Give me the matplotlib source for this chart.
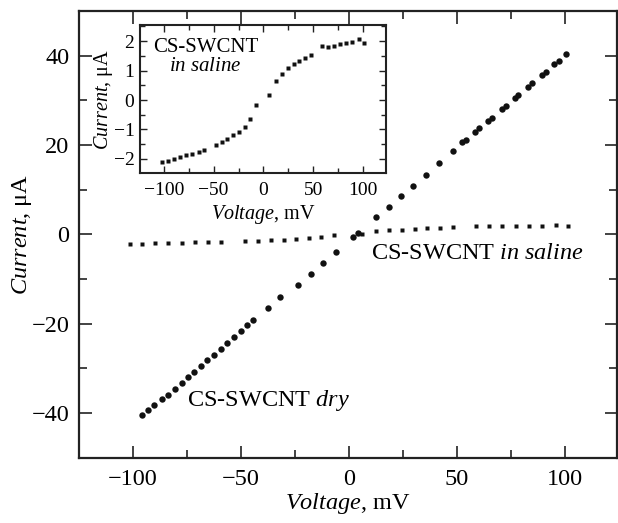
import matplotlib
matplotlib.use("Agg")
import matplotlib.pyplot as plt
from matplotlib.ticker import MultipleLocator

plt.rcParams['font.family'] = ['Liberation Serif', 'DejaVu Serif']
plt.rcParams['mathtext.fontset'] = 'custom'
plt.rcParams['mathtext.rm'] = 'Liberation Serif'
plt.rcParams['mathtext.it'] = 'Liberation Serif:italic'

# ---- data ----
dry_v = [-95.7, -92.9, -90.3, -86.4, -83.6, -80.6, -77.5, -74.4, -71.8, -68.7,
         -65.6, -62.5, -59.4, -56.3, -53.2, -50.1, -47.1, -44.3, -37.7, -32.1,
         -23.5, -17.6, -11.8, -5.9, 1.9, 4.3, 12.6, 18.5, 24.2, 29.8,
         35.5, 41.7, 48.1, 52.5, 54.0, 58.3, 60.2, 64.5, 66.4, 71.0,
         72.8, 76.9, 78.4, 83.0, 84.9, 89.2, 91.1, 94.9, 97.2, 100.3]
dry_i = [-40.5, -39.4, -38.3, -36.9, -36.0, -34.6, -33.2, -32.0, -30.8, -29.5,
         -28.2, -26.9, -25.6, -24.3, -22.9, -21.6, -20.4, -19.1, -16.5, -14.0,
         -11.3, -8.8, -6.4, -3.9, -0.6, 0.35, 3.8, 6.2, 8.6, 10.9,
         13.3, 15.9, 18.6, 20.6, 21.1, 23.0, 23.7, 25.4, 26.0, 28.0,
         28.7, 30.6, 31.2, 33.0, 33.8, 35.7, 36.4, 38.2, 38.9, 40.4]

saline_v = [-101.5, -95.7, -89.8, -83.6, -77.4, -71.3, -65.1, -59.3,
            -48.1, -42.0, -36.1, -30.2, -24.4, -18.5, -13.0, -7.1,
            6.0,
            12.3, 18.5, 24.4, 30.4, 36.2, 42.0, 48.2,
            58.8, 64.9, 71.0, 77.3, 83.3, 89.5, 95.7, 101.4]
saline_i = [-2.11, -2.07, -2.00, -1.93, -1.88, -1.82, -1.77, -1.71,
            -1.53, -1.41, -1.31, -1.20, -1.10, -0.90, -0.63, -0.17,
            0.16,
            0.64, 0.90, 1.08, 1.21, 1.31, 1.42, 1.54,
            1.82, 1.79, 1.84, 1.89, 1.93, 1.98, 2.07, 1.95]

main_xticks = [-100, -50, 0, 50, 100]
main_yticks = [-40, -20, 0, 20, 40]
inset_xticks = [-100, -50, 0, 50, 100]
inset_yticks = [-2, -1, 0, 1, 2]

W, H = 618, 523
fig = plt.figure(figsize=(W / 100, H / 100), dpi=100)

# ---- main axes ----
ax = fig.add_axes([79 / W, (H - 457.7) / H, (617 - 79) / W, (457.7 - 11) / H])
ax.plot(dry_v, dry_i, 'o', color='#111111', ms=4.6, mec='none')
ax.plot(saline_v, saline_i, 's', color='#111111', ms=3.3, mec='none')
ax.set_xlim(-125, 124.1)
ax.set_ylim(-50, 50)
ax.set_xticks(main_xticks)
ax.set_yticks(main_yticks)
ax.xaxis.set_minor_locator(MultipleLocator(25))
ax.yaxis.set_minor_locator(MultipleLocator(10))
ax.tick_params(which='both', direction='in', top=True, right=True,
               labelsize=17.5, width=1.2, color='#222222')
ax.tick_params(which='major', length=9, pad=7)
ax.tick_params(axis='x', which='major', pad=8)
ax.tick_params(which='minor', length=5.5)
for s in ax.spines.values():
    s.set_linewidth(1.6)
    s.set_color('#222222')
ax.set_xlabel(r'$\mathit{Voltage}$, mV', fontsize=17.5, labelpad=1)
ax.set_ylabel(r'$\mathit{Current}$, μA', fontsize=17.5, labelpad=-2)

ax.text(10, -4.3, r'CS-SWCNT $\mathit{in\ saline}$', fontsize=17.5,
        ha='left', va='center')
ax.text(-75, -37.3, r'CS-SWCNT $\mathit{dry}$', fontsize=17.5,
        ha='left', va='center')

# ---- inset ----
ins = fig.add_axes([140 / W, (H - 173.3) / H, 246 / W, 148.3 / H])
ins.plot(saline_v, saline_i, 's', color='#111111', ms=2.6, mec='none')
ins.set_xlim(-124, 123.2)
ins.set_ylim(-2.49, 2.55)
ins.set_xticks(inset_xticks)
ins.set_yticks(inset_yticks)
ins.xaxis.set_minor_locator(MultipleLocator(25))
ins.yaxis.set_minor_locator(MultipleLocator(0.5))
ins.tick_params(which='both', direction='in', top=True, right=True,
                labelsize=14, width=1.0, color='#222222')
ins.tick_params(which='major', length=5, pad=4)
ins.tick_params(axis='x', which='major', pad=6)
ins.tick_params(which='minor', length=3.5)
for s in ins.spines.values():
    s.set_linewidth(1.5)
    s.set_color('#222222')
ins.set_xlabel(r'$\mathit{Voltage}$, mV', fontsize=14.5, labelpad=3)
ins.set_ylabel(r'$\mathit{Current}$, μA', fontsize=14.5, labelpad=-1)
ins.text(-58, 1.45, 'CS-SWCNT\n' + r'$\mathit{in\ saline}$', fontsize=15,
         ha='center', va='center', multialignment='center', linespacing=1.0)

fig.savefig('out.png', dpi=100)
